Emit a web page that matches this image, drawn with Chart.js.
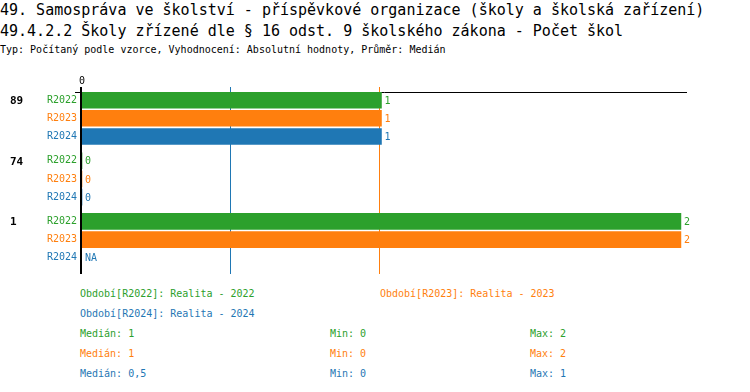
<!DOCTYPE html>
<html>
<head>
<meta charset="utf-8">
<script src="https://cdn.jsdelivr.net/npm/chart.js@4.4.0/dist/chart.umd.min.js"></script>
<style>
    body { margin: 0; background: #fff; font-family: "DejaVu Sans Mono", monospace; }
    #page { position: relative; width: 750px; height: 392px; overflow: hidden; }
    .t { position: absolute; white-space: pre; }
    .title { left: 0; font-size: 15px; line-height: 21px; color: #000; }
    .small { font-size: 10px; line-height: 12px; }
    #chartBox { position: absolute; left: 0; top: 60px; width: 750px; height: 223px; }
</style>
</head>
<body>
<div id="page">
    <div class="t title" style="top:0px">49. Samospráva ve školství - příspěvkové organizace (školy a školská zařízení)</div>
    <div class="t title" style="top:21px">49.4.2.2 Školy zřízené dle § 16 odst. 9 školského zákona - Počet škol</div>
    <div class="t small" style="top:44px; left:0">Typ: Počítaný podle vzorce, Vyhodnocení: Absolutní hodnoty, Průměr: Medián</div>
    <div id="chartBox"><canvas id="chart" width="750" height="223"></canvas></div>
    <div id="legend"></div>
</div>

<script>
// Data
const groups = ['89', '74', '1'];
const periods = ['R2022', 'R2023', 'R2024'];
const periodNames = ['Realita - 2022', 'Realita - 2023', 'Realita - 2024'];
const values2022 = [1, 0, 2];
const values2023 = [1, 0, 2];
const values2024 = [1, 0, null];
const colors = ['#2ca02c', '#ff7f0e', '#1f77b4'];

const seriesValues = [values2022, values2023, values2024];
const groupSpacing = 10 / 3;   // rows between group starts

function rowPos(g, s) {
    return g * groupSpacing + s;
}

function median(arr) {
    const v = arr.filter(x => x !== null).sort((a, b) => a - b);
    const m = Math.floor(v.length / 2);
    return v.length % 2 ? v[m] : (v[m - 1] + v[m]) / 2;
}

function fmt(n) {
    return String(n).replace('.', ',');
}

const medians = seriesValues.map(median);

// Row positions for the y axis ticks (group-major order)
const rowTicks = [];
groups.forEach((g, gi) => {
    periods.forEach((p, si) => rowTicks.push(rowPos(gi, si)));
});

const datasets = periods.map((p, si) => ({
    label: p,
    data: groups.map((g, gi) => ({ x: seriesValues[si][gi], y: rowPos(gi, si) })),
    backgroundColor: colors[si],
    barThickness: 16,
    grouped: false
}));

const monoFont = { family: 'DejaVu Sans Mono', size: 10 };

// median lines behind bars, axis line extensions
const medianLines = {
    id: 'medianLines',
    beforeDatasetsDraw(chart) {
        const ctx = chart.ctx;
        const area = chart.chartArea;
        const xs = chart.scales.x;
        ctx.save();
        ctx.lineWidth = 1;
        medians.forEach((m, i) => {
            const x = Math.round(xs.getPixelForValue(m)) - 1.5;
            ctx.strokeStyle = colors[i];
            ctx.beginPath();
            ctx.moveTo(x, area.top - 5);
            ctx.lineTo(x, area.bottom + 2);
            ctx.stroke();
        });
        // extend axes a little like in the original
        ctx.strokeStyle = '#000';
        ctx.beginPath();
        ctx.moveTo(area.left - 7, area.top + 0.5);
        ctx.lineTo(area.left, area.top + 0.5);
        ctx.stroke();
        ctx.lineWidth = 2;
        ctx.beginPath();
        ctx.moveTo(area.left - 1, area.top - 5);
        ctx.lineTo(area.left - 1, area.bottom + 2);
        ctx.stroke();
        ctx.restore();
    }
};

// value labels and group labels
const valueLabels = {
    id: 'valueLabels',
    afterDatasetsDraw(chart) {
        const ctx = chart.ctx;
        const xs = chart.scales.x;
        const ys = chart.scales.y;
        ctx.save();
        ctx.font = '10px "DejaVu Sans Mono"';
        ctx.textBaseline = 'middle';
        ctx.textAlign = 'left';
        chart.data.datasets.forEach((ds, si) => {
            ds.data.forEach(pt => {
                const end = pt.x === null ? xs.getPixelForValue(0) : xs.getPixelForValue(pt.x);
                ctx.fillStyle = colors[si];
                ctx.fillText(pt.x === null ? 'NA' : fmt(pt.x), end + 3, ys.getPixelForValue(pt.y) + 1);
            });
        });
        ctx.fillStyle = '#000';
        ctx.font = 'bold 11px "DejaVu Sans Mono"';
        groups.forEach((g, gi) => {
            ctx.fillText(g, 10, ys.getPixelForValue(rowPos(gi, 0)) + 1);
        });
        ctx.restore();
    }
};

new Chart(document.getElementById('chart'), {
    type: 'bar',
    data: { datasets: datasets },
    options: {
        indexAxis: 'y',
        responsive: false,
        animation: false,
        devicePixelRatio: 1,
        layout: { padding: { left: 0, right: 64, top: 0, bottom: 10 } },
        plugins: {
            legend: { display: false },
            tooltip: { enabled: false }
        },
        scales: {
            x: {
                type: 'linear',
                position: 'top',
                min: 0,
                max: 2.017,
                afterFit: s => { s.height = 32; },
                afterBuildTicks: s => { s.ticks = [{ value: 0 }]; },
                grid: { display: false, drawTicks: false },
                border: { display: true, color: '#000', width: 1 },
                ticks: {
                    color: '#000',
                    font: monoFont,
                    padding: 5,
                    callback: v => String(v)
                }
            },
            y: {
                type: 'linear',
                reverse: true,
                offset: false,
                min: -0.444,
                max: 9.444,
                afterFit: s => { s.width = 82; },
                afterBuildTicks: s => { s.ticks = rowTicks.map(v => ({ value: v })); },
                grid: { display: false, drawTicks: false, offset: false },
                border: { display: false },
                ticks: {
                    autoSkip: false,
                    font: monoFont,
                    padding: 5,
                    color: c => colors[c.index % 3],
                    callback: (v, i) => periods[i % 3]
                }
            }
        }
    },
    plugins: [medianLines, valueLabels]
});

// legend + stats below the chart
const legend = document.getElementById('legend');
let html = '';
const legendPos = [[80, 288], [380, 288], [80, 308]];
periods.forEach((p, i) => {
    html += `<div class="t small" style="left:${legendPos[i][0]}px; top:${legendPos[i][1]}px; color:${colors[i]}">Období[${p}]: ${periodNames[i]}</div>`;
});
seriesValues.forEach((vals, i) => {
    const v = vals.filter(x => x !== null);
    const top = 328 + i * 20;
    html += `<div class="t small" style="left:80px; top:${top}px; color:${colors[i]}">Medián: ${fmt(medians[i])}</div>`;
    html += `<div class="t small" style="left:330px; top:${top}px; color:${colors[i]}">Min: ${fmt(Math.min(...v))}</div>`;
    html += `<div class="t small" style="left:530px; top:${top}px; color:${colors[i]}">Max: ${fmt(Math.max(...v))}</div>`;
});
legend.innerHTML = html;
</script>
</body>
</html>
